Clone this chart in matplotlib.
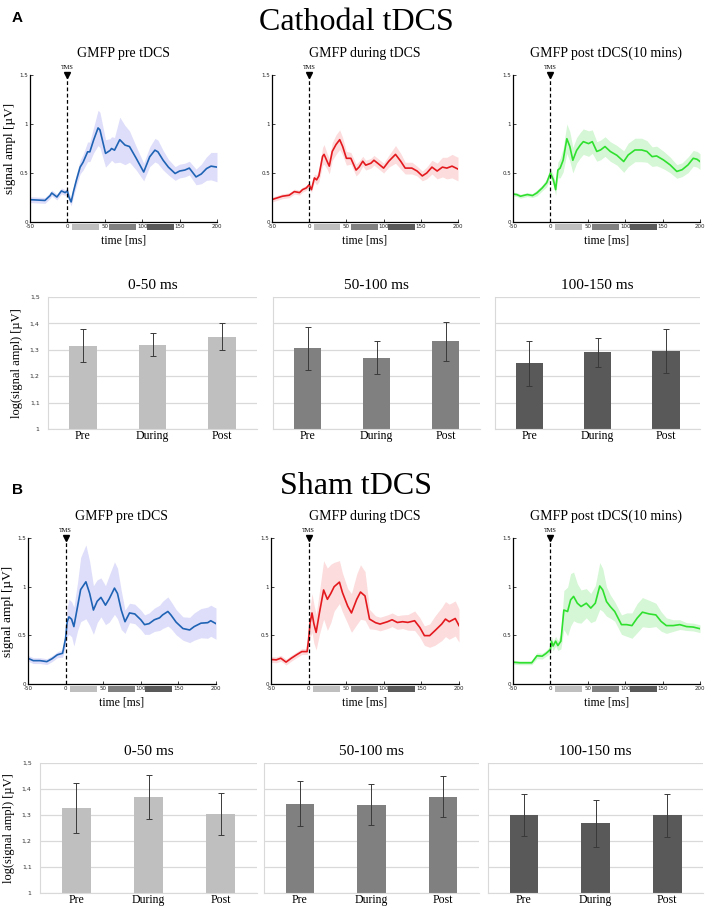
import numpy as np
import matplotlib
matplotlib.use("Agg")
import matplotlib.pyplot as plt
from matplotlib.patches import Rectangle
import matplotlib.transforms as mtransforms

plt.rcParams["axes.unicode_minus"] = False

W, H = 712, 910
SERIF = "Liberation Serif"

# ---------------- GMFP time courses ----------------
# Cathodal tDCS
cat_pre_t = [-50, -30, -23, -21, -14, -8, -3, 0, 2, 5, 8, 12, 17, 21, 27, 30, 35, 41, 43.5, 51, 57, 59, 63, 70, 77,
             83, 92, 102, 110, 117, 121, 128, 135, 144, 150, 157, 163, 172, 179, 186, 192, 200]
cat_pre_m = [.228, .22, .27, .296, .255, .317, .30, .317, .255, .205, .307, .426, .56, .61, .716, .716, .835, .96, .94,
             .70, .73, .75, .733, .84, .785, .77, .65, .51, .665, .733, .716, .63, .56, .495, .52, .53, .55, .46, .49,
             .545, .57, .56]
cat_pre_s = [.03, .03, .03, .03, .03, .03, .03, .03, .04, .04, .05, .06, .07, .08, .1, .1, .13, .18, .18, .14, .12,
             .12, .13, .23, .2, .16, .12, .09, .1, .12, .12, .1, .08, .07, .07, .07, .07, .08, .1, .12, .14, .15]

cat_dur_t = [-50, -43, -36, -27, -20, -13, -9, -4, 0, 3, 7, 10, 13, 18, 20, 24, 27, 31, 36, 41, 45, 50, 56, 63, 67,
             72, 76, 83, 87, 92, 100, 107, 116, 123, 129, 138, 145, 152, 158, 165, 172, 179, 185, 192, 200]
cat_dur_m = [.229, .246, .263, .273, .31, .30, .33, .347, .38, .33, .45, .43, .47, .67, .69, .62, .57, .72, .79, .84,
             .77, .65, .65, .53, .56, .62, .58, .60, .63, .60, .55, .62, .69, .62, .55, .55, .52, .47, .50, .56, .52,
             .56, .55, .57, .54]
cat_dur_s = [.025, .025, .025, .025, .025, .025, .025, .025, .025, .03, .04, .05, .06, .09, .1, .08, .08, .09, .1, .1,
             .09, .07, .06, .06, .06, .05, .05, .05, .05, .05, .05, .06, .09, .08, .06, .06, .05, .05, .06, .07, .08,
             .1, .11, .12, .12]

cat_post_t = [-50, -45, -40, -31, -24, -18, -11, -5, 0, 4, 7, 10, 13, 17, 22, 26, 30, 35, 40, 44, 51, 56, 62, 67, 73,
              80, 89, 98, 104, 113, 122, 129, 136, 142, 151, 160, 169, 176, 184, 191, 196, 200]
cat_post_m = [.285, .28, .263, .28, .27, .297, .347, .40, .50, .43, .33, .53, .55, .63, .85, .77, .63, .73, .785, .82,
              .80, .82, .72, .735, .77, .72, .68, .617, .684, .735, .735, .72, .667, .674, .634, .583, .516, .533,
              .583, .65, .64, .617]
cat_post_s = [.02, .02, .02, .02, .02, .03, .03, .04, .05, .05, .06, .08, .1, .12, .15, .15, .13, .13, .13, .13, .13,
              .12, .1, .1, .1, .1, .1, .11, .12, .12, .12, .11, .1, .1, .09, .08, .07, .07, .08, .08, .08, .08]

# Sham tDCS
sham_pre_t = [-50, -43, -34, -25, -18, -11, -4, 0, 2, 4.5, 8, 11, 16, 20, 27, 32, 37, 42, 47, 53, 58, 65, 69, 74, 79,
              85, 92, 100, 105, 111, 118, 125, 129, 136, 140, 147, 156, 165, 171, 180, 189, 193, 200]
sham_pre_m = [.264, .24, .24, .23, .26, .30, .316, .47, .635, .69, .665, .59, .80, .97, 1.05, .93, .76, .85, .89, .81,
              .875, .985, .93, .76, .64, .73, .72, .66, .61, .62, .66, .68, .71, .745, .71, .635, .57, .555, .59, .625,
              .63, .65, .62]
sham_pre_s = [.03, .03, .03, .03, .03, .03, .04, .08, .15, .18, .18, .2, .25, .33, .38, .33, .25, .22, .2, .2, .24,
              .27, .26, .2, .12, .1, .1, .1, .1, .11, .12, .13, .14, .15, .14, .13, .12, .13, .14, .15, .16, .16, .16]

sham_dur_t = [-50, -43, -37, -30, -23, -16, -9, -2, 0, 2, 4.5, 7, 10, 14.5, 20, 25, 29.5, 34, 41, 45, 52, 57, 64, 69,
              75, 81, 89, 95, 105, 111, 118, 125, 132, 141, 148, 154, 161, 168, 177, 182, 187, 195, 200]
sham_dur_m = [.252, .248, .265, .225, .265, .30, .333, .333, .46, .63, .73, .62, .53, .735, .966, .87, .93, 1.0, 1.047,
              .94, .80, .73, .87, .945, .905, .667, .63, .616, .64, .66, .632, .64, .633, .65, .58, .497, .497, .548,
              .616, .667, .64, .673, .60]
sham_dur_s = [.03, .03, .03, .03, .03, .03, .03, .03, .06, .15, .2, .2, .18, .22, .3, .32, .3, .25, .22, .2, .18, .2,
              .26, .28, .25, .1, .07, .07, .07, .07, .07, .07, .08, .1, .1, .1, .12, .15, .17, .18, .18, .18, .17]

sham_post_t = [-50, -41, -32, -25, -18, -11, -6, 0, 1.4, 3.6, 7, 10, 14, 18, 23, 27, 31, 36, 41, 48, 54, 60, 66, 70,
               75, 80, 86, 95, 102, 109, 116, 123, 132, 141, 148, 155, 164, 173, 182, 191, 200]
sham_post_m = [.224, .218, .218, .218, .29, .286, .313, .354, .44, .39, .44, .395, .44, .76, .745, .864, .90, .83, .796,
               .83, .78, .83, 1.007, .966, .847, .796, .745, .61, .61, .60, .677, .738, .72, .71, .643, .60, .60, .61,
               .59, .585, .568]
sham_post_s = [.02, .02, .02, .02, .03, .03, .03, .04, .05, .05, .05, .05, .08, .2, .25, .27, .25, .2, .17, .15, .15,
               .18, .24, .22, .15, .12, .1, .1, .12, .13, .15, .15, .14, .12, .1, .08, .06, .05, .04, .04, .04]

gmfp_titles = ["GMFP pre tDCS", "GMFP during tDCS", "GMFP post tDCS(10 mins)"]
line_colors = ["#1f63b4", "#e3191e", "#2fe02f"]
band_colors = ["#dedefa", "#fcdcdd", "#d5f7d5"]

# ---------------- bar charts: log(signal ampl) per window ----------------
windows = ["0-50 ms", "50-100 ms", "100-150 ms"]
win_lo = [0, 50, 100]
win_hi = [50, 100, 150]
win_colors = ["#bfbfbf", "#808080", "#595959"]
conditions = ["Pre", "During", "Post"]

cat_bar_mean = [[1.315, 1.32, 1.35], [1.305, 1.27, 1.332], [1.249, 1.29, 1.295]]
cat_bar_err = [[.062, .042, .05], [.08, .062, .075], [.086, .055, .083]]
sham_bar_mean = [[1.327, 1.37, 1.305], [1.344, 1.34, 1.371], [1.300, 1.268, 1.299]]
sham_bar_err = [[.096, .085, .081], [.086, .078, .078], [.08, .091, .082]]


def box(l, t, r, b):     # pixel box -> figure fraction
    return [l / W, 1 - b / H, (r - l) / W, (b - t) / H]


def draw_gmfp(ax, t, m, s, i, first):
    t = np.array(t); m = np.array(m); s = np.array(s)
    ax.fill_between(t, m - s, m + s, color=band_colors[i], lw=0)
    ax.plot(t, m, color=line_colors[i], lw=1.2)
    ax.plot([0, 0], [0, 1.5], color="k", lw=0.9, ls=(0, (3, 2)))
    ax.plot([0], [1.5], marker="v", color="k", ms=5, clip_on=False)
    ax.text(0, 1.55, "TMS", ha="center", va="bottom", fontsize=4.5, family=SERIF)
    ax.set_xlim(-50, 200)
    ax.set_ylim(0, 1.5)
    ax.set_xticks([-50, 0, 50, 100, 150, 200])
    ax.set_yticks([0, 0.5, 1, 1.5])
    ax.set_yticklabels(["0", "0.5", "1", "1.5"])
    ax.tick_params(direction="in", length=2, width=0.6, labelsize=4, pad=1.5, colors="#222222")
    for sp in ["top", "right"]:
        ax.spines[sp].set_visible(False)
    for sp in ["left", "bottom"]:
        ax.spines[sp].set_linewidth(0.9)
    # time windows shown under the axis
    trans = mtransforms.blended_transform_factory(ax.transData, ax.transAxes)
    for lo, hi, c in zip(win_lo, win_hi, win_colors):
        ax.add_patch(Rectangle((lo + 6, -0.052), hi - lo - 14, 0.036, transform=trans,
                               color=c, lw=0, clip_on=False))
    ax.set_title(gmfp_titles[i], family=SERIF, fontsize=10, pad=13)
    ax.text(0.5, -0.125, "time [ms]", transform=ax.transAxes, ha="center", va="center",
            family=SERIF, fontsize=8.5)
    if first:
        ax.set_ylabel("signal ampl [\u00b5V]", family=SERIF, fontsize=9.5, labelpad=2)


def draw_bars(ax, vals, errs, j, first):
    x = np.arange(len(conditions))
    ax.bar(x, np.array(vals) - 1, bottom=1, width=0.4, color=win_colors[j], zorder=2)
    ax.errorbar(x, vals, yerr=errs, fmt="none", ecolor="#3a3a3a", elinewidth=0.7,
                capsize=2, capthick=0.7, zorder=3)
    ax.set_xlim(-0.5, 2.5)
    ax.set_ylim(1, 1.5)
    ax.set_yticks([1, 1.1, 1.2, 1.3, 1.4, 1.5])
    ax.grid(axis="y", color="#d9d9d9", lw=0.9, zorder=0)
    ax.set_xticks(x)
    ax.set_xticklabels(conditions, family=SERIF, fontsize=8.5)
    ax.tick_params(axis="x", length=0, pad=1)
    ax.tick_params(axis="y", length=0, pad=6)
    for sp in ["top", "right"]:
        ax.spines[sp].set_visible(False)
    for sp in ["left", "bottom"]:
        ax.spines[sp].set_color("#d9d9d9")
    ax.set_title(windows[j], family=SERIF, fontsize=11, pad=6)
    if first:
        ax.set_yticklabels(["1", "1,1", "1,2", "1,3", "1,4", "1,5"], fontsize=4.5, color="#333333")
        ax.set_ylabel("log(signal ampl) [\u00b5V]", family=SERIF, fontsize=9, labelpad=5)
    else:
        ax.set_yticklabels([])


fig = plt.figure(figsize=(W / 100, H / 100), dpi=100)

# Panel A: cathodal
fig.text(12 / W, 1 - 18 / H, "A", family="Liberation Sans", fontweight="bold", fontsize=11, va="center")
fig.text(0.5, 1 - 22 / H, "Cathodal tDCS", family=SERIF, fontsize=23, ha="center", va="center")
cat_series = [(cat_pre_t, cat_pre_m, cat_pre_s), (cat_dur_t, cat_dur_m, cat_dur_s), (cat_post_t, cat_post_m, cat_post_s)]
line_x = [(30, 217), (272, 458), (513, 700)]
for i, (t, m, s) in enumerate(cat_series):
    ax = fig.add_axes(box(line_x[i][0], 75, line_x[i][1], 222))
    draw_gmfp(ax, t, m, s, i, i == 0)

bar_x_top = [(48, 257), (273, 480), (495, 700)]
for j in range(3):
    ax = fig.add_axes(box(bar_x_top[j][0], 297, bar_x_top[j][1], 429))
    draw_bars(ax, cat_bar_mean[j], cat_bar_err[j], j, j == 0)

# Panel B: sham
fig.text(12 / W, 1 - 490 / H, "B", family="Liberation Sans", fontweight="bold", fontsize=11, va="center")
fig.text(0.5, 1 - 487 / H, "Sham tDCS", family=SERIF, fontsize=23, ha="center", va="center")
sham_series = [(sham_pre_t, sham_pre_m, sham_pre_s), (sham_dur_t, sham_dur_m, sham_dur_s),
               (sham_post_t, sham_post_m, sham_post_s)]
line_x_b = [(28, 216), (271, 459), (513, 700)]
for i, (t, m, s) in enumerate(sham_series):
    ax = fig.add_axes(box(line_x_b[i][0], 538, line_x_b[i][1], 684))
    draw_gmfp(ax, t, m, s, i, i == 0)

bar_x_bot = [(40, 257), (264, 479), (488, 703)]
for j in range(3):
    ax = fig.add_axes(box(bar_x_bot[j][0], 763, bar_x_bot[j][1], 893))
    draw_bars(ax, sham_bar_mean[j], sham_bar_err[j], j, j == 0)

fig.savefig("out.png", dpi=100)
